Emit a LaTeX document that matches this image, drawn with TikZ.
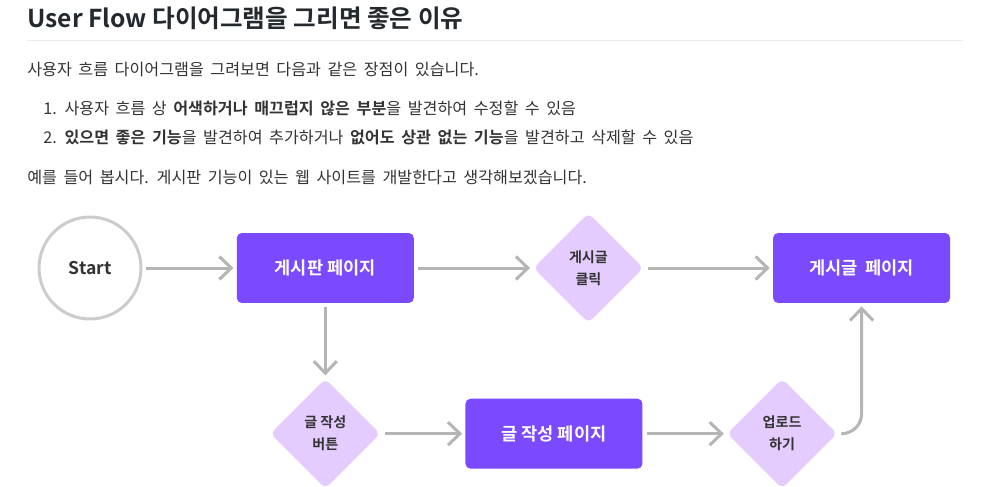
\documentclass[tikz,border=0pt]{standalone}
\usepackage{fontspec}
\setmainfont{Noto Sans CJK KR}[BoldFont={Noto Sans CJK KR Bold}]
\newfontfamily\prosefont{Noto Sans CJK KR}[BoldFont={Noto Sans CJK KR Bold}, WordSpace=1.8]
\usetikzlibrary{arrows.meta, positioning, shapes.geometric}

\definecolor{pagepurple}{HTML}{7B4AFF}
\definecolor{choicelilac}{HTML}{E4CCFF}
\definecolor{linegray}{HTML}{B5B5B5}
\definecolor{ringgray}{HTML}{CCCCCC}
\definecolor{textdark}{HTML}{333333}
\definecolor{titledark}{HTML}{24292E}
\definecolor{rulegray}{HTML}{EAECEF}

\begin{document}
\begin{tikzpicture}[x=0.02cm, y=-0.02cm,
  every node/.style={text=textdark},
  prose/.style={anchor=base west, inner sep=0pt, font=\prosefont\fontsize{9.2}{11}\selectfont},
  startring/.style={circle, draw=ringgray, line width=0.06cm, fill=white,
    minimum size=2.04cm, font=\fontsize{10}{12}\selectfont\bfseries},
  pagebox/.style={rectangle, rounded corners=0.1cm, fill=pagepurple,
    minimum width=3.54cm, minimum height=1.4cm, text=white,
    font=\fontsize{10}{12}\selectfont\bfseries},
  choice/.style={diamond, aspect=1, rounded corners=0.12cm, fill=choicelilac,
    minimum width=2.2cm, minimum height=2.2cm, inner sep=0pt, align=center,
    font=\fontsize{8}{12.5}\selectfont\bfseries},
  arrow/.style={draw=linegray, line width=0.6mm, shorten <=0.08cm, shorten >=0.06cm,
    -{Straight Barb[length=2.4mm, width=4.6mm]}}]

\useasboundingbox (0,0) rectangle (981,487);

% heading and text
\node[anchor=base west, inner sep=0pt, text=titledark,
  font=\fontsize{14}{16}\selectfont\bfseries] (title) at (27,27) {User Flow 다이어그램을 그리면 좋은 이유};
\draw[rulegray, line width=0.02cm] (27,40) -- (963,40);
\node[prose] (intro) at (27,75) {사용자 흐름 다이어그램을 그려보면 다음과 같은 장점이 있습니다.};
\node[prose] (itemone) at (43,114) {1. 사용자 흐름 상 \textbf{어색하거나 매끄럽지 않은 부분}을 발견하여 수정할 수 있음};
\node[prose] (itemtwo) at (43,143) {2. \textbf{있으면 좋은 기능}을 발견하여 추가하거나 \textbf{없어도 상관 없는 기능}을 발견하고 삭제할 수 있음};
\node[prose] (example) at (27,183) {예를 들어 봅시다. 게시판 기능이 있는 웹 사이트를 개발한다고 생각해보겠습니다.};

% flow
\node[startring] (start) at (90,268) {Start};
\node[pagebox, right=1.88cm of start] (board) {게시판 페이지};
\node[choice, right=2.38cm of board] (click) {게시글\\클릭};
\node[pagebox, right=2.58cm of click] (post) {게시글\ \ 페이지};
\node[choice, below=1.5cm of board] (write) {글 작성\\버튼};
\node[pagebox, right=1.69cm of write] (editor) {글 작성 페이지};
\node[choice, right=1.68cm of editor] (upload) {업로드\\하기};

\draw[arrow] (start) -- (board);
\draw[arrow] (board) -- (click);
\draw[arrow] (click) -- (post);
\draw[arrow] (board) -- (write);
\draw[arrow] (write) -- (editor);
\draw[arrow] (editor) -- (upload);
\draw[arrow, rounded corners=0.4cm] (upload.east) -| (post.south);

\end{tikzpicture}
\end{document}
